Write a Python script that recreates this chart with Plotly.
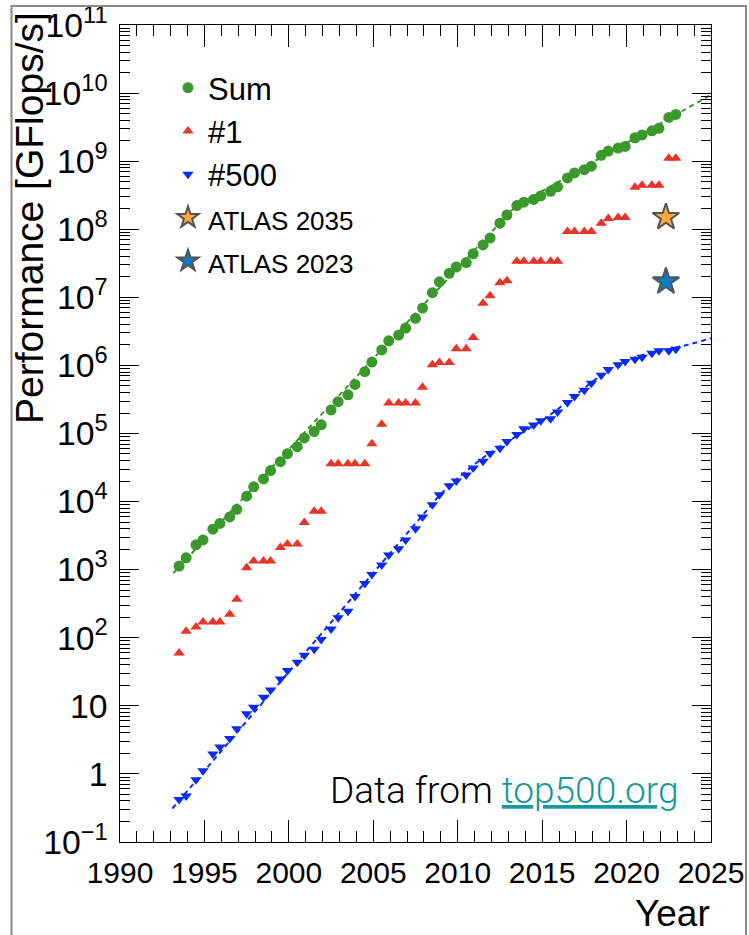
import plotly.graph_objects as go

# ---------------- data (GFlops/s) ----------------
editions = [f"{y}-{m:02d}" for y in range(1993, 2023) for m in (6, 11)]
years = [int(e[:4]) + int(e[5:]) / 12.0 for e in editions]

sum_perf = [1128, 1493, 2317, 2732, 3927, 4784, 5949, 7700, 12000, 16500,
            21500, 28500, 38500, 50500, 64000, 86000, 107000, 134000, 222000, 293000,
            370000, 525000, 810000, 1120000, 1690000, 2300000, 2790000, 3540000, 4920000, 6970000,
            11700000, 16900000, 22600000, 27900000, 32400000, 43700000, 58900000, 74200000, 123000000, 162000000,
            223000000, 250000000, 274000000, 309000000, 361000000, 420000000, 567000000, 672000000, 749000000, 845000000,
            1220000000, 1410000000, 1560000000, 1650000000, 2210000000, 2430000000, 2790000000, 3040000000, 4400000000, 4860000000]

top1_perf = [59.7, 124, 143.4, 170, 170, 170, 220.4, 368.2, 1068, 1338,
             1338, 1338, 2121, 2379, 2379, 4938, 7226, 7226, 35860, 35860,
             35860, 35860, 35860, 70720, 136800, 280600, 280600, 280600, 280600, 478200,
             1026000, 1105000, 1105000, 1759000, 1759000, 2566000, 8162000, 10510000, 16320000, 17590000,
             33860000, 33860000, 33860000, 33860000, 33860000, 33860000, 93010000, 93010000, 93010000, 93010000,
             122300000, 143500000, 148600000, 148600000, 415500000, 442000000, 442000000, 442000000, 1102000000, 1102000000]

top500_perf = [0.422, 0.472, 0.822, 1.114, 1.956, 2.489, 3.306, 4.619, 7.67, 9.513,
               13.39, 17.1, 24.73, 33.08, 43.82, 55.1, 67.78, 94.3, 134.3, 195.8,
               245.1, 403.4, 624, 850.6, 1166, 1646, 2026, 2737, 4005, 5929,
               9000, 12640, 17090, 20050, 24670, 31120, 39100, 50940, 60820, 76500,
               96620, 117800, 133700, 153400, 164900, 206300, 286100, 349300, 432200, 548300,
               715600, 874800, 1022000, 1142000, 1228000, 1317000, 1511000, 1646000, 1646000, 1730000]

# trend lines (knots)
sum_fit_x = [1993.15, 2013.4, 2025.0]
sum_fit_y = [885, 2.15e8, 9.5e9]
low_fit_x = [1993.1, 2007.8, 2009.2, 2011.5, 2013.1, 2015.3, 2016.5, 2018.5, 2019.8, 2021.0, 2023.4, 2025.0]
low_fit_y = [0.31, 5.8e3, 1.45e4, 4.4e4, 8.0e4, 1.75e5, 2.95e5, 7.2e5, 1.12e6, 1.42e6, 1.95e6, 2.5e6]

atlas_year = [2022.33]
atlas2035 = [1.5e8]
atlas2023 = [1.7e7]

x_ticks = [1990, 1995, 2000, 2005, 2010, 2015, 2020, 2025]

# ---------------- style ----------------
GREEN = "#3b992b"
RED = "#e8352a"
BLUE = "#0b2af2"
FONT = "Liberation Sans, Arial, Helvetica, sans-serif"

fig = go.Figure()

fig.add_trace(go.Scatter(x=years, y=sum_perf, mode="markers", name="Sum",
                         marker=dict(symbol="circle", size=11, color=GREEN),
                         legendgroup="a"))
fig.add_trace(go.Scatter(x=years, y=top1_perf, mode="markers", name="#1",
                         marker=dict(symbol="triangle-up", size=10, color=RED),
                         legendgroup="b"))
fig.add_trace(go.Scatter(x=years, y=top500_perf, mode="markers", name="#500",
                         marker=dict(symbol="triangle-down", size=10, color=BLUE),
                         legendgroup="c"))
fig.add_trace(go.Scatter(x=atlas_year, y=atlas2035, mode="markers",
                         name="<span style='font-size:26px'>ATLAS 2035</span>",
                         marker=dict(symbol="star", size=20, color="#ffa83c",
                                     line=dict(color="#555555", width=2)),
                         legendgroup="d"))
fig.add_trace(go.Scatter(x=atlas_year, y=atlas2023, mode="markers",
                         name="<span style='font-size:26px'>ATLAS 2023</span>",
                         marker=dict(symbol="star", size=20, color="#0c7bc3",
                                     line=dict(color="#555555", width=2)),
                         legendgroup="e"))

fig.add_trace(go.Scatter(x=sum_fit_x, y=sum_fit_y, mode="lines", showlegend=False,
                         line=dict(color=GREEN, width=2, dash="5px,4px")))
fig.add_trace(go.Scatter(x=low_fit_x, y=low_fit_y, mode="lines", showlegend=False,
                         line=dict(color=BLUE, width=2, dash="5px,4px", shape="spline", smoothing=0.9)))

L, R, T, B = 120, 38, 25, 93
W, H = 749, 935
pw, ph = W - L - R, H - T - B

def px(xp):
    return (xp - L) / pw

def py(yp):
    return (H - B - yp) / ph

fig.update_layout(
    width=W, height=H,
    margin=dict(l=L, r=R, t=T, b=B, autoexpand=False),
    paper_bgcolor="white", plot_bgcolor="white",
    font=dict(family=FONT, color="black"),
    showlegend=True,
    legend=dict(x=px(168), y=py(61), xanchor="left", yanchor="top",
                font=dict(family=FONT, size=31, color="black"),
                bgcolor="rgba(0,0,0,0)", borderwidth=0, tracegroupgap=0,
                itemsizing="trace"),
    xaxis=dict(range=[1990, 2025], tickvals=x_ticks, ticks="inside", ticklen=22,
               tickcolor="black", tickwidth=1, showline=True, linecolor="black",
               linewidth=1, mirror="allticks", showgrid=False, zeroline=False,
               tickfont=dict(family=FONT, size=30), ticklabelstandoff=4,
               ticklabeloverflow="allow", automargin=False,
               minor=dict(dtick=1, ticks="inside", ticklen=11, tickcolor="black",
                          showgrid=False)),
    yaxis=dict(type="log", range=[-1.0005, 11.0005], dtick=1, exponentformat="power",
               ticks="inside", ticklen=19, tickcolor="black", tickwidth=1,
               showline=True, linecolor="black", linewidth=1, mirror="allticks",
               showgrid=False, zeroline=False, ticklabeloverflow="allow",
               automargin=False,
               tickfont=dict(family=FONT, size=27), ticklabelstandoff=6,
               minor=dict(dtick="D1", ticks="inside", ticklen=10, tickcolor="black",
                          showgrid=False)),
)

# outer frame
fig.add_shape(type="rect", xref="paper", yref="paper",
              x0=px(11.5), x1=px(746), y0=py(950), y1=py(6),
              line=dict(color="#8a8a8a", width=2), fillcolor="rgba(0,0,0,0)")

# axis titles
fig.add_annotation(text="Performance [GFlops/s]", textangle=-90,
                   xref="paper", yref="paper", x=px(30), y=py(10),
                   xanchor="center", yanchor="top", showarrow=False,
                   font=dict(family=FONT, size=39, color="black"))
fig.add_annotation(text="Year", xref="paper", yref="paper",
                   x=px(712), y=py(914), xanchor="right", yanchor="middle",
                   showarrow=False, font=dict(family=FONT, size=37, color="black"))

# data source
fig.add_annotation(text="Data from <span style='color:#1697a0'><u>top500.org</u></span>",
                   xref="paper", yref="paper", x=px(680), y=py(790),
                   xanchor="right", yanchor="middle", showarrow=False,
                   font=dict(family="Roboto, Lato, sans-serif", size=37, color="black", weight=300))

fig.write_html("out.html")
